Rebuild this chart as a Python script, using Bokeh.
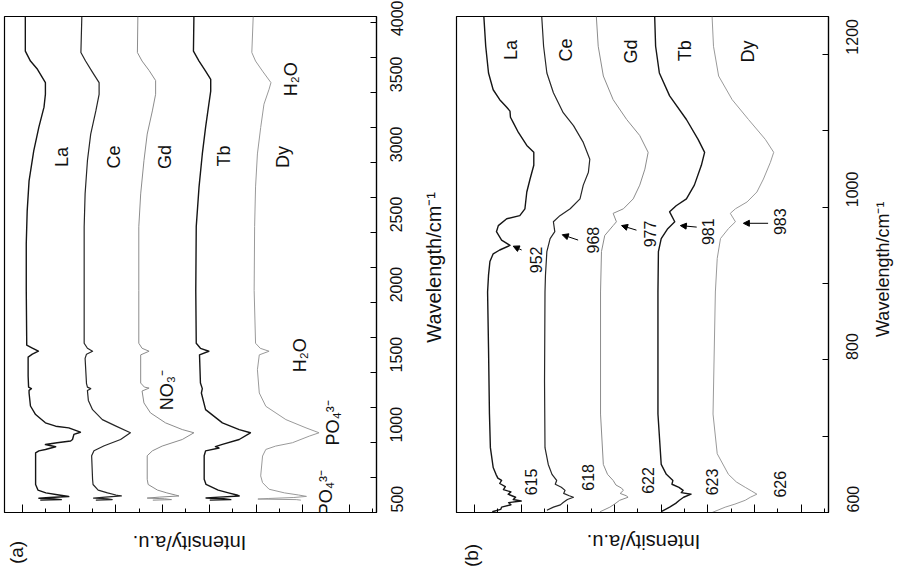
import math
from bokeh.plotting import figure
from bokeh.models import Range1d, FixedTicker, Label, Arrow, NormalHead
from bokeh.layouts import row, column
from bokeh.embed import file_html
from bokeh.resources import INLINE

FONT = "Liberation Sans"
SERIES = ["La", "Ce", "Gd", "Tb", "Dy"]
COLORS = ["#151515", "#262626", "#8c8c8c", "#151515", "#9a9a9a"]
WIDTHS = [1.4, 1.2, 1.0, 1.4, 1.0]

# ---------------- panel (a): 500-4000 cm-1 ----------------
# depth = drop of the trace below its own baseline (a.u.), offsets = stacking baselines
A_OFFSETS = [7.92, 6.68, 5.51, 4.29, 3.04]

LA_A_WN = [4040, 3793, 3722, 3663, 3568, 3485, 3393, 3250, 3081, 2867, 2653, 2420, 2085, 1708, 1694, 1673,
           1651, 1630, 1609, 1474, 1395, 1384, 1372, 1353, 1260, 1199, 1140, 1116, 1104, 1073, 1057, 1021,
           1010, 998, 985, 969, 950, 940, 926, 855, 735, 700, 660, 640, 625, 614, 607, 602, 597, 592, 588]
LA_A_D = [-0.02, -0.02, 0.09, 0.24, 0.41, 0.41, 0.38, 0.27, 0.16, 0.06, 0.02, 0.0, 0.0, 0.01, 0.01, 0.13,
          0.26, 0.13, 0.04, 0.04, 0.05, 0.11, 0.06, 0.06, 0.09, 0.2, 0.41, 0.63, 0.91, 1.16, 1.02, 0.99,
          0.95, 0.66, 0.41, 0.63, 0.41, 0.27, 0.2, 0.2, 0.2, 0.2, 0.25, 0.42, 0.7, 0.91, 0.5, 0.27, 0.6, 0.75, 0.3]

CE_A_WN = [4040, 3783, 3722, 3641, 3568, 3485, 3366, 3201, 3011, 2774, 2540, 2085, 1708, 1672, 1651, 1630,
           1600, 1420, 1395, 1384, 1370, 1300, 1234, 1163, 1118, 1069, 1021, 976, 941, 905, 737, 700, 660,
           640, 625, 618, 610, 603, 598, 592, 588]
CE_A_D = [-0.05, -0.07, 0.03, 0.18, 0.32, 0.32, 0.25, 0.14, 0.07, 0.02, 0.0, 0.0, 0.0, 0.07, 0.18, 0.05,
          0.02, 0.05, 0.07, 0.14, 0.07, 0.09, 0.18, 0.39, 0.67, 0.99, 0.78, 0.43, 0.21, 0.16, 0.18, 0.19, 0.3,
          0.5, 0.68, 0.8, 0.45, 0.2, 0.5, 0.6, 0.25]

GD_A_WN = [4040, 3783, 3722, 3655, 3583, 3485, 3366, 3201, 3011, 2774, 2540, 2085, 1708, 1672, 1651, 1625,
           1424, 1395, 1388, 1367, 1282, 1211, 1140, 1092, 1069, 1021, 974, 940, 905, 737, 700, 660, 640,
           625, 618, 610, 603, 598, 592, 588]
GD_A_D = [-0.02, -0.03, 0.07, 0.22, 0.36, 0.36, 0.29, 0.18, 0.11, 0.04, 0.0, 0.0, 0.0, 0.07, 0.22, 0.04,
          0.04, 0.12, 0.22, 0.07, 0.11, 0.25, 0.57, 0.93, 1.18, 0.93, 0.5, 0.29, 0.18, 0.18, 0.2, 0.4, 0.6,
          0.78, 0.86, 0.45, 0.18, 0.55, 0.7, 0.3]

TB_A_WN = [4040, 3793, 3722, 3650, 3592, 3508, 3414, 3248, 3059, 2824, 2540, 2085, 1708, 1672, 1651, 1625,
           1424, 1384, 1353, 1234, 1140, 1092, 1069, 1021, 986, 970, 960, 940, 905, 737, 700, 660, 640,
           625, 618, 610, 603, 598, 592, 588]
TB_A_D = [-0.04, -0.05, 0.07, 0.21, 0.32, 0.32, 0.28, 0.21, 0.14, 0.07, 0.01, 0.0, 0.01, 0.1, 0.28, 0.08,
          0.1, 0.14, 0.12, 0.21, 0.57, 0.93, 1.17, 0.93, 0.57, 0.42, 0.5, 0.21, 0.18, 0.18, 0.22, 0.48, 0.7,
          0.88, 0.93, 0.5, 0.22, 0.6, 0.75, 0.3]

DY_A_WN = [4040, 3783, 3722, 3650, 3568, 3521, 3414, 3248, 3059, 2824, 2540, 2085, 1708, 1672, 1651, 1625,
           1519, 1353, 1258, 1163, 1104, 1069, 1045, 998, 974, 950, 903, 761, 713, 666, 640, 625, 615, 607,
           600, 596, 592, 588]
DY_A_D = [-0.02, -0.05, 0.03, 0.18, 0.36, 0.32, 0.21, 0.14, 0.07, 0.03, 0.01, 0.0, 0.03, 0.13, 0.32, 0.11,
          0.07, 0.11, 0.25, 0.68, 1.11, 1.39, 1.18, 0.82, 0.46, 0.25, 0.18, 0.14, 0.18, 0.32, 0.65, 0.95, 1.12,
          0.85, 0.3, 0.08, 0.9, 1.0]

# ---------------- panel (b): 600-1250 cm-1 ----------------
B_OFFSETS = [7.72, 6.49, 5.30, 4.07, 2.84]

LA_B_WN = [1250, 1211, 1176, 1154, 1141, 1131, 1126, 1118, 1111, 1098, 1081, 1072, 1055, 1037, 1020, 998,
           989, 985, 976, 968, 957, 950, 944, 939, 929, 911, 889, 816, 729, 685, 659, 650, 645, 642, 638,
           634, 630, 627, 624, 620, 617, 615, 613, 610, 607, 604, 601]
LA_B_D = [-0.08, -0.04, 0.02, 0.12, 0.26, 0.41, 0.48, 0.49, 0.55, 0.66, 0.84, 0.99, 0.99, 0.91, 0.84, 0.8,
          0.69, 0.41, 0.23, 0.19, 0.3, 0.48, 0.26, 0.12, 0.05, 0.02, 0.0, 0.02, 0.04, 0.06, 0.12, 0.18, 0.22,
          0.3, 0.26, 0.38, 0.34, 0.5, 0.44, 0.6, 0.55, 0.72, 0.45, 0.5, 0.3, 0.28, 0.1]

CE_B_WN = [1250, 1211, 1176, 1150, 1124, 1107, 1085, 1063, 1046, 1029, 1011, 998, 989, 981, 968, 959, 942,
           911, 889, 772, 685, 663, 650, 642, 637, 633, 629, 625, 622, 620, 617, 613, 610, 607, 603]
CE_B_D = [-0.07, -0.03, 0.04, 0.18, 0.39, 0.61, 0.82, 0.96, 0.93, 0.82, 0.75, 0.54, 0.32, 0.18, 0.21, 0.11,
          0.04, 0.01, 0.0, -0.01, 0.0, 0.07, 0.15, 0.25, 0.22, 0.35, 0.43, 0.4, 0.52, 0.61, 0.48, 0.39, 0.33,
          0.18, 0.04]

GD_B_WN = [1250, 1211, 1172, 1141, 1115, 1094, 1072, 1050, 1029, 1011, 998, 992, 981, 976, 963, 942, 889,
           729, 663, 650, 642, 636, 632, 629, 625, 622, 620, 616, 611, 607, 601]
GD_B_D = [-0.09, -0.05, 0.06, 0.27, 0.56, 0.84, 1.02, 0.95, 0.84, 0.7, 0.49, 0.27, 0.34, 0.27, 0.09, 0.02,
          0.0, 0.0, 0.06, 0.15, 0.27, 0.33, 0.45, 0.49, 0.42, 0.55, 0.59, 0.41, 0.3, 0.2, -0.01]

TB_B_WN = [1250, 1211, 1176, 1146, 1115, 1089, 1072, 1055, 1029, 1011, 1002, 994, 981, 972, 959, 942, 889,
           729, 663, 650, 642, 637, 633, 629, 626, 624, 620, 616, 612, 607, 601]
TB_B_D = [-0.07, -0.05, 0.03, 0.25, 0.61, 0.86, 1.0, 0.93, 0.78, 0.61, 0.39, 0.25, 0.36, 0.21, 0.07, 0.01,
          0.0, 0.0, 0.07, 0.18, 0.32, 0.3, 0.45, 0.54, 0.5, 0.71, 0.55, 0.46, 0.38, 0.25, 0.07]

DY_B_WN = [1250, 1211, 1172, 1141, 1115, 1089, 1072, 1059, 1037, 1020, 1007, 998, 992, 981, 972, 959, 933,
           889, 729, 677, 650, 640, 633, 628, 624, 620, 616, 611, 607, 600]
DY_B_D = [-0.07, -0.04, 0.07, 0.36, 0.71, 1.07, 1.25, 1.18, 1.03, 0.89, 0.68, 0.43, 0.32, 0.43, 0.28, 0.11,
          0.04, 0.0, -0.05, 0.04, 0.28, 0.45, 0.64, 0.78, 0.89, 0.75, 0.64, 0.42, 0.21, -0.07]

# axis ticks
A_WN_TICKS = [500, 1000, 1500, 2000, 2500, 3000, 3500, 4000]
A_WN_MINOR = [750, 1250, 1750, 2250, 2750, 3250, 3750]
B_WN_TICKS = [600, 800, 1000, 1200]
B_WN_MINOR = [700, 900, 1100]
INT_TICKS = [1, 2, 3, 4, 5, 6, 7, 8]
INT_MINOR = [0.5, 1.5, 2.5, 3.5, 4.5, 5.5, 6.5, 7.5]

# annotation texts (label, intensity position, wavenumber position)
A_NAME_POS = [(7.15, 3037), (6.04, 3037), (4.94, 3037), (3.68, 3044), (2.43, 3037)]
A_BANDS = [("H\u2082O", 2.26, 3592), ("H\u2082O", 2.05, 1623), ("NO\u2083\u207b", 4.9, 1374),
           ("PO\u2084\u00b3\u207b", 1.36, 1140), ("PO\u2084\u00b3\u207b", 1.51, 642)]
B_NAME_POS = [(7.21, 1206), (6.03, 1206), (4.64, 1204), (3.49, 1205), (2.14, 1204)]
B_PEAKS_HI = [("952", 6.68, 931, 6.99, 944, 7.17, 949), ("968", 5.46, 957, 5.78, 957, 6.12, 964),
              ("977", 4.24, 965, 4.53, 970, 4.85, 976), ("981", 2.99, 968, 3.24, 974, 3.59, 976),
              ("983", 1.46, 981, 1.71, 979, 2.24, 979)]
B_PEAKS_LO = [("615", 6.78, 640), ("618", 5.56, 646), ("622", 4.28, 642), ("623", 2.92, 640), ("626", 1.46, 637)]

X_LABEL = "Intensity/a.u."
Y_LABEL = "Wavelength/cm\u207b\u00b9"

ROW_H = 520
STRIP_H = 50


def make_panel(xr, yr, w, borders, wn_ticks, wn_minor, label_standoff):
    bl, br, bt, bb = borders
    p = figure(width=w, height=ROW_H, x_range=Range1d(*xr), y_range=Range1d(*yr),
               output_backend="svg", toolbar_location=None, y_axis_location="right",
               min_border_left=bl, min_border_right=br, min_border_top=bt, min_border_bottom=bb,
               background_fill_color="white", border_fill_color="white")
    p.xgrid.visible = False
    p.ygrid.visible = False
    p.outline_line_color = "black"
    p.outline_line_width = 1.2

    xa = p.xaxis[0]
    xa.ticker = FixedTicker(ticks=INT_TICKS, minor_ticks=INT_MINOR)
    xa.major_tick_in = 8
    xa.major_tick_out = 0
    xa.minor_tick_in = 4
    xa.minor_tick_out = 0
    xa.major_label_overrides = {t: "" for t in INT_TICKS}
    xa.major_label_standoff = 0
    xa.major_label_text_font_size = "1px"
    xa.axis_line_color = "black"
    xa.axis_line_width = 1.2
    xa.major_tick_line_color = "black"
    xa.minor_tick_line_color = "black"

    ya = p.yaxis[0]
    ya.ticker = FixedTicker(ticks=wn_ticks, minor_ticks=wn_minor)
    ya.major_tick_in = 6
    ya.major_tick_out = 0
    ya.minor_tick_in = 6
    ya.minor_tick_out = 0
    ya.axis_line_color = "black"
    ya.axis_line_width = 1.2
    ya.major_tick_line_color = "black"
    ya.minor_tick_line_color = "black"
    ya.major_label_orientation = math.pi / 2
    ya.major_label_standoff = label_standoff
    ya.major_label_text_font = FONT
    ya.major_label_text_font_size = "16px"
    ya.major_label_text_color = "#111111"
    return p


def strip(w, h):
    s = figure(width=w, height=h, x_range=Range1d(0, w), y_range=Range1d(h, 0),
               x_axis_type=None, y_axis_type=None, output_backend="svg", toolbar_location=None,
               min_border=0, background_fill_color="white", border_fill_color="white")
    s.outline_line_color = None
    s.grid.visible = False
    return s


def add_traces(p, wns, depths, offsets):
    for wn, d, off, col, lw in zip(wns, depths, offsets, COLORS, WIDTHS):
        inten = [off - v for v in d]
        p.line(inten, wn, line_color=col, line_width=lw, line_join="round")


def txt(p, text, x, y, size, angle=math.pi / 2):
    p.add_layout(Label(x=x, y=y, text=text, angle=angle, text_align="center", text_baseline="middle",
                       text_font=FONT, text_font_size=size, text_color="#111111"))


# ---- panel (a)
pa = make_panel((8.386, 0.42), (500, 4040), 418, (4, 42, 14, 8), A_WN_TICKS, A_WN_MINOR, 20)
add_traces(pa, [LA_A_WN, CE_A_WN, GD_A_WN, TB_A_WN, DY_A_WN],
           [LA_A_D, CE_A_D, GD_A_D, TB_A_D, DY_A_D], A_OFFSETS)
for name, (x, y) in zip(SERIES, A_NAME_POS):
    txt(pa, name, x, y, "18px")
for t, x, y in A_BANDS:
    txt(pa, t, x, y, "18px")

ga = strip(28, ROW_H)
txt(ga, Y_LABEL, 15, 263, "20px")

# ---- panel (b)
pb = make_panel((8.386, 0.416), (600, 1250), 424, (10, 42, 16, 6), B_WN_TICKS, B_WN_MINOR, 24)
add_traces(pb, [LA_B_WN, CE_B_WN, GD_B_WN, TB_B_WN, DY_B_WN],
           [LA_B_D, CE_B_D, GD_B_D, TB_B_D, DY_B_D], B_OFFSETS)
for name, (x, y) in zip(SERIES, B_NAME_POS):
    txt(pb, name, x, y, "18px")
for t, lx, ly, x0, y0, x1, y1 in B_PEAKS_HI:
    txt(pb, t, lx, ly, "16px")
    pb.add_layout(Arrow(end=NormalHead(size=6, line_color="black", fill_color="black", line_width=1),
                        x_start=x0, y_start=y0, x_end=x1, y_end=y1, line_color="black", line_width=1))
for t, x, y in B_PEAKS_LO:
    txt(pb, t, x, y, "16px")

gb = strip(24, ROW_H)
txt(gb, Y_LABEL, 12, 265, "18px")

# ---- bottom strips: intensity axis titles and panel tags
sa = strip(446, STRIP_H)
txt(sa, X_LABEL, 189, 22, "20px", angle=math.pi)
txt(sa, "(a)", 16, 32, "19px")

sb = strip(446, STRIP_H)
txt(sb, X_LABEL, 197, 21, "20px", angle=math.pi)
txt(sb, "(b)", 25, 35, "19px")

layout = column(row(pa, ga, pb, gb), row(sa, sb))
open("out.html", "w").write(file_html(layout, INLINE))
